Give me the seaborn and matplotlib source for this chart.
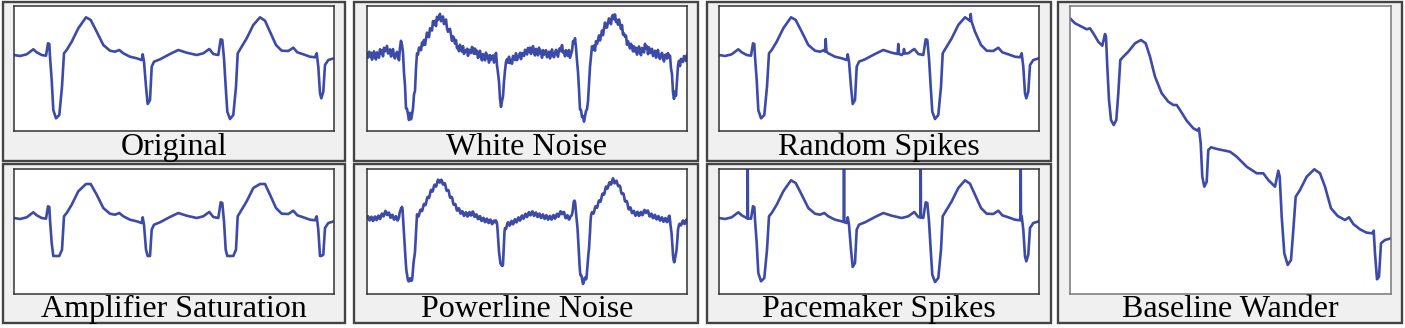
import numpy as np
import pandas as pd
import matplotlib
matplotlib.use("Agg")
import matplotlib.pyplot as plt
import seaborn as sns
from matplotlib.patches import Rectangle

# ------------------------------------------------
# DATA (pixel-like units)
# ------------------------------------------------

# clean ECG trace: time (0..320) and amplitude (0..125)
base_t = [0, 6, 12.7, 19.3, 22.7, 27.7, 32, 34, 35.3, 36, 37.7, 39.3, 42, 45.3, 48, 50,
          52.7, 57.7, 64.3, 72, 76.7, 82.7, 89.3, 96, 101, 105.3, 109.3, 116, 122.7, 127.7,
          128.7, 130, 132, 133.7, 136, 137.7, 140, 146, 156, 164.3, 172.7, 182.7, 189.3,
          195.3, 199.3, 204.3, 206.7, 208.3, 210, 211.7, 213.3, 216, 219.3, 222, 223.7,
          226.7, 232.7, 239.3, 246, 251, 256, 262, 267.7, 274.3, 279.3, 283.3, 289.3, 296,
          301, 302.7, 304.3, 306, 307.3, 309.3, 311, 314.3, 320]
base_v = [76, 75, 76.7, 81.7, 78.7, 76, 75.3, 87.7, 87, 74.3, 51, 21, 12.7, 16, 44.3, 77.7,
          81, 89.3, 102.7, 113.7, 111, 99.3, 86, 80.3, 79.3, 81, 77.7, 74.3, 72.7, 71,
          76.7, 69.3, 44.3, 27, 31, 64.3, 69.3, 71.7, 77, 81, 78.3, 76, 77.7,
          82, 77, 76, 91.7, 91, 72.7, 44.3, 19.3, 12, 16, 44.3, 77.7,
          82.7, 92.7, 106, 113.7, 110.3, 99.3, 86, 80.3, 80, 83.3, 78.7, 76.7, 74.3,
          73.7, 77.7, 64.3, 37.7, 32.7, 39.3, 66, 71, 72.7]

# amplifier saturation limits
sat_low, sat_high = 38, 110

# white noise offsets (per sample, step 1)
white_noise = [1.8, -2.4, 3.6, -0.8, 2.9, -3.8, 0.6, 4.4, -1.5, -4.2, 2.6, 0.3, -3.2, 4.8,
               -0.4, 2.2, -4.5, 3.3, -1.1, 0.9, 4.0, -2.8, -0.2, 3.1, -3.5, 1.2, 5.0, -1.8,
               -3.4, 0.7, 3.5, -0.9, -4.6, 1.9, 2.5, -1.3, 4.2, -2.6, 0.1, -4.0, 3.4, 1.0,
               -1.7, 4.5, -3.0, 0.4, -0.6, 2.7, -4.1, 1.6, 0.0, -2.5, 3.2]

# one period of powerline hum (per sample, step 0.5)
hum = [0, 1.5, 2.0, 1.0, -1.0, -2.0, -1.5]

# random spikes: position, peak, foot
rand_t = [106.7, 179.3, 185.0, 251.7]
rand_top = [92, 87, 82, 117]
rand_foot = [79.5, 77, 77.5, 110]

# pacemaker spikes: position, foot
pace_t = [28.7, 125.0, 201.7, 301.7]
pace_foot = [75.5, 72, 76.5, 74]
pace_top = 135

# baseline wander trace (taller panel, 0..288)
wander_t = [0, 5, 11.7, 16.7, 20, 23.3, 28.3, 32.3, 35, 36, 37.3, 39, 41, 43.7, 46.3, 48.3,
            50.3, 53.3, 58.3, 65, 71, 75.7, 80, 85, 91.7, 98.3, 103.3, 106.7, 110, 116.7,
            123.3, 127.7, 129, 130.7, 132.3, 134.3, 136.7, 138.3, 141, 148.3, 160, 166.7,
            176.7, 186.7, 193.3, 198.3, 205, 208.3, 209.7, 211.7, 214.3, 217.7, 221, 223.3,
            225.7, 230, 236.7, 244.3, 250, 255, 261, 267.7, 275, 279, 283.3, 290, 296.7,
            302.3, 303.7, 305, 307, 309, 311, 315, 321]
wander_v = [275.7, 270.7, 267.3, 264.7, 265.7, 260.7, 252.3, 248.3, 260, 257.3, 227.3, 194,
            174, 169, 174, 200.7, 234, 237.3, 242.3, 250.7, 254, 250.7, 237.3, 217.3, 200.7,
            192.3, 189, 189, 184, 173.3, 165.7, 163.3, 165.7, 150.7, 117.3, 107.3, 112.3,
            144, 146.7, 144.7, 142.3, 137.3, 127.3, 120.7, 120.7, 114, 107.3, 123.3, 117.3,
            77.3, 40.7, 29, 34, 64, 97.3, 104, 117.3, 124.7, 120.7, 107.3, 85.7, 78, 74,
            76.7, 70, 64.7, 61.3, 60.7, 63.3, 40.7, 14.7, 17.3, 50.7, 54, 55.7]

labels = ["Original", "White Noise", "Random Spikes", "Amplifier Saturation",
          "Powerline Noise", "Pacemaker Spikes", "Baseline Wander"]

LINE = "#3c4aa8"
W, H = 1405, 328


# ------------------------------------------------
# SERIES
# ------------------------------------------------

def with_spikes(t, v, spike_t, spike_top, spike_foot, half):
    extra_t, extra_v = [], []
    for s, top, foot in zip(spike_t, spike_top, spike_foot):
        extra_t += [s - half, s, s + half]
        extra_v += [foot, top, foot]
    df = pd.DataFrame({"t": list(t) + extra_t, "v": list(v) + extra_v})
    return df.sort_values("t", kind="stable").reset_index(drop=True)


base = pd.DataFrame({"t": base_t, "v": base_v})

grid1 = np.arange(0, 320.5, 1.0)
white = pd.DataFrame({"t": grid1,
                      "v": np.interp(grid1, base_t, base_v) + np.resize(white_noise, len(grid1))})

grid2 = np.arange(0, 320.25, 0.5)
power = pd.DataFrame({"t": grid2,
                      "v": np.interp(grid2, base_t, base_v) + np.resize(hum, len(grid2))})

sat = pd.DataFrame({"t": base_t, "v": np.clip(base_v, sat_low, sat_high)})

rand = with_spikes(base_t, base_v, rand_t, rand_top, rand_foot, 0.7)
pace = with_spikes(base_t, base_v, pace_t, [pace_top] * len(pace_t), pace_foot, 0.25)

wander = pd.DataFrame({"t": wander_t, "v": wander_v})

series = [base, white, rand, sat, power, pace]


# ------------------------------------------------
# FIGURE
# ------------------------------------------------

sns.set_theme(style="white")
plt.rcParams["font.family"] = ["Liberation Serif", "DejaVu Serif"]

fig = plt.figure(figsize=(W / 100, H / 100), dpi=100)
fig.patch.set_facecolor("white")

cols = [(3, 345, 14, 334), (354, 698, 367, 687), (707, 1051, 719, 1039)]
rows = [(2, 161, 6, 131, 155), (164, 323, 169, 294, 317)]


def frame(x0, x1, y0, y1):
    fig.add_artist(Rectangle((x0 / W, 1 - y1 / H), (x1 - x0) / W, (y1 - y0) / H,
                             transform=fig.transFigure, facecolor="#f0f0f0",
                             edgecolor="#444444", linewidth=1.7, zorder=0))


def panel(ix0, ix1, iy0, iy1, df, xlim, ylim):
    ax = fig.add_axes([ix0 / W, 1 - iy1 / H, (ix1 - ix0) / W, (iy1 - iy0) / H])
    ax.set_facecolor("white")
    sns.lineplot(data=df, x="t", y="v", ax=ax, color=LINE, linewidth=1.9,
                 estimator=None, sort=False)
    ax.set_xlim(*xlim)
    ax.set_ylim(*ylim)
    ax.set_xticks([])
    ax.set_yticks([])
    ax.set_xlabel("")
    ax.set_ylabel("")
    for sp in ax.spines.values():
        sp.set_visible(True)
        sp.set_color("#333333")
        sp.set_linewidth(1.1)
    return ax


for r, (oy0, oy1, iy0, iy1, ty) in enumerate(rows):
    for c, (ox0, ox1, ix0, ix1) in enumerate(cols):
        idx = r * 3 + c
        frame(ox0, ox1, oy0, oy1)
        panel(ix0, ix1, iy0, iy1, series[idx], (0, 320), (0, 125))
        fig.text((ix0 + ix1) / 2 / W, 1 - ty / H, labels[idx], ha="center",
                 va="baseline", fontsize=23, color="black")

# tall baseline wander panel
frame(1058, 1402, 2, 323)
wax = panel(1070, 1391, 6, 294, wander, (0, 321), (0, 288))
for sp in wax.spines.values():
    sp.set_color("#777777")
fig.text((1070 + 1391) / 2 / W, 1 - 317 / H, labels[6], ha="center",
         va="baseline", fontsize=23, color="black")

fig.savefig("out.png", dpi=100, facecolor=fig.get_facecolor())
